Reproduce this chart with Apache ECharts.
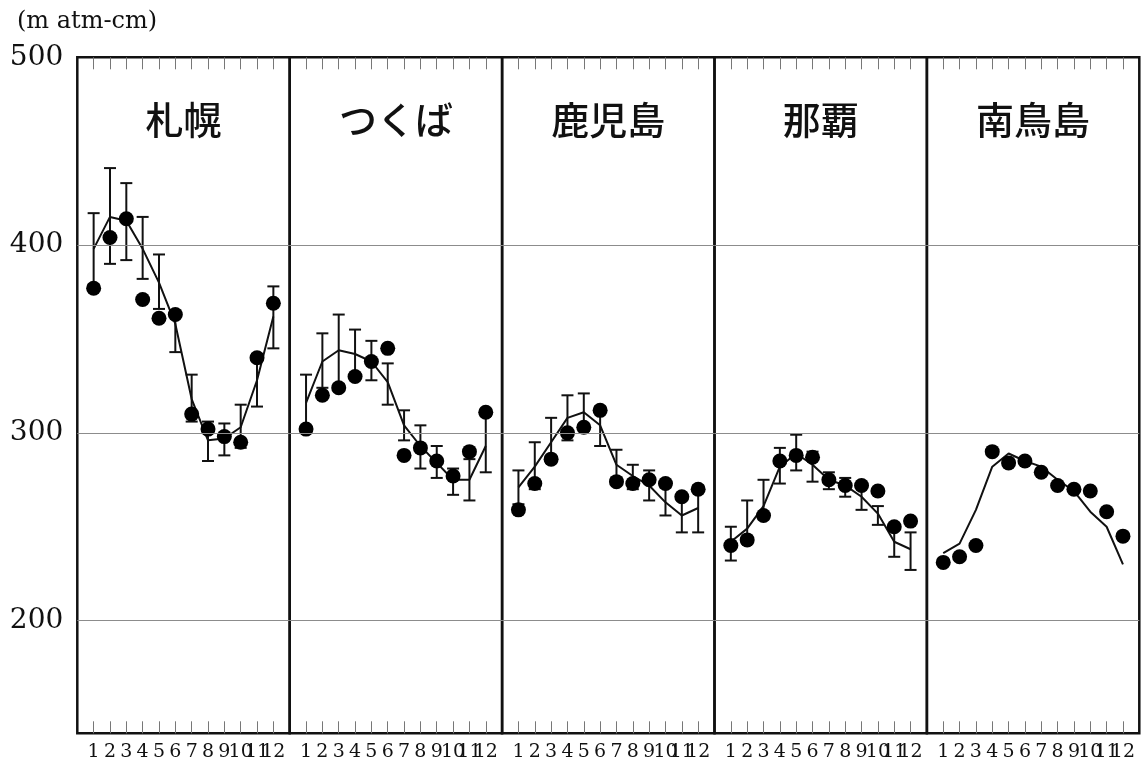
<!DOCTYPE html>
<html>
<head>
<meta charset="utf-8">
<script src="https://cdn.jsdelivr.net/npm/echarts@6/dist/echarts.min.js"></script>
<style>
html,body{margin:0;padding:0;background:#fff;}
#chart{width:1145px;height:765px;}
</style>
</head>
<body>
<div id="chart"></div>
<script>
const months = [1,2,3,4,5,6,7,8,9,10,11,12];
const stations = ['札幌','つくば','鹿児島','那覇','南鳥島'];
const yTickLabels = [200,300,400,500];
const unitLabel = '(m atm-cm)';

const sapporoDots = [377,404,414,371,361,363,310,302,298,295,340,369];
const sapporoMean = [398,415,413,398,380,358,318,296,297,303,328,362];
const sapporoHi   = [417,441,433,415,395,365,331,306,305,315,342,378];
const sapporoLo   = [379,390,392,382,366,343,306,285,288,292,314,345];

const tsukubaDots = [302,320,324,330,338,345,288,292,285,277,290,311];
const tsukubaMean = [316,338,344,342,338,327,304,293,284,275,275,293];
const tsukubaHi   = [331,353,363,355,349,337,312,304,293,281,286,309];
const tsukubaLo   = [301,324,326,330,328,315,296,281,276,267,264,279];

const kagoshimaDots = [259,273,286,300,303,312,274,273,275,273,266,270];
const kagoshimaMean = [271,282,295,308,311,304,283,277,272,263,256,260];
const kagoshimaHi   = [280,295,308,320,321,314,291,283,280,271,266,272];
const kagoshimaLo   = [262,270,284,296,301,293,276,270,264,256,247,247];

const nahaDots = [240,243,256,285,288,287,275,272,272,269,250,253];
const nahaMean = [242,249,261,282,289,283,275,272,266,257,242,238];
const nahaHi   = [250,264,275,292,299,290,279,276,273,261,250,247];
const nahaLo   = [232,241,254,273,280,274,270,266,259,251,234,227];

const minamitorishimaDots = [231,234,240,290,284,285,279,272,270,269,258,245];
const minamitorishimaMean = [236,241,259,282,289,285,282,275,269,258,250,230];

const dotsAll = [sapporoDots,tsukubaDots,kagoshimaDots,nahaDots,minamitorishimaDots];
const meanAll = [sapporoMean,tsukubaMean,kagoshimaMean,nahaMean,minamitorishimaMean];
const hiAll = [sapporoHi,tsukubaHi,kagoshimaHi,nahaHi,null];
const loAll = [sapporoLo,tsukubaLo,kagoshimaLo,nahaLo,null];

const chart = echarts.init(document.getElementById('chart'), null, {renderer:'canvas'});

const gLeft = 77.3, gW = 212.4, gTop = 57.3, gH = 676;
const ink = '#111';

const grids = [], xAxes = [], yAxes = [], series = [], graphics = [];

function errRender(params, api){
  const x = api.value(0), hi = api.value(1), lo = api.value(2);
  const t = api.coord([x,hi]), b = api.coord([x,lo]);
  const w = 6, st = {stroke: ink, lineWidth: 2};
  return {type:'group', children:[
    {type:'line', shape:{x1:t[0],y1:t[1],x2:b[0],y2:b[1]}, style:st},
    {type:'line', shape:{x1:t[0]-w,y1:t[1],x2:t[0]+w,y2:t[1]}, style:st},
    {type:'line', shape:{x1:b[0]-w,y1:b[1],x2:b[0]+w,y2:b[1]}, style:st}
  ]};
}

const oddMonths = months.filter(m=>m%2===1);
const evenMonths = months.filter(m=>m%2===0);
const labelStyle = {margin:9, color: ink, fontFamily:'DejaVu Serif', fontSize:19,
  showMinLabel:true, showMaxLabel:true, hideOverlap:false};

for (let i=0;i<5;i++){
  grids.push({left: gLeft + i*gW, top: gTop, width: gW, height: gH,
    show: true, borderColor: ink, borderWidth: 2.5, backgroundColor: 'transparent'});
  const tickCfg = {show:true, inside:true, length:12, customValues: months,
    lineStyle:{color:'#777', width:1}};
  // bottom axis: ticks + odd month labels (series bind here)
  xAxes.push({type:'value', gridIndex:i, min:0, max:13, position:'bottom',
    axisLine:{show:false}, axisTick: tickCfg, splitLine:{show:false},
    axisLabel: Object.assign({show:true, customValues: oddMonths}, labelStyle)});
  // bottom axis: even month labels
  xAxes.push({type:'value', gridIndex:i, min:0, max:13, position:'bottom',
    axisLine:{show:false}, axisTick:{show:false}, splitLine:{show:false},
    axisLabel: Object.assign({show:true, customValues: evenMonths}, labelStyle)});
  // top axis: ticks only
  xAxes.push({type:'value', gridIndex:i, min:0, max:13, position:'top',
    axisLine:{show:false}, axisTick: tickCfg, splitLine:{show:false},
    axisLabel:{show:false}});
  yAxes.push({type:'value', gridIndex:i, min:140, max:500,
    axisLine:{show:false}, axisTick:{show:false}, splitLine:{show:false},
    axisLabel: i===0 ? {show:true, customValues: yTickLabels, margin:14, color: ink,
      showMinLabel:true, showMaxLabel:true, hideOverlap:false,
      fontFamily:'DejaVu Serif', fontSize:28} : {show:false}});

  series.push({type:'line', xAxisIndex: i*3, yAxisIndex: i,
    data: months.map((m,k)=>[m, meanAll[i][k]]),
    symbol:'none', lineStyle:{color: ink, width:2}, z:3, silent:true,
    markLine:{silent:true, symbol:'none', label:{show:false},
      lineStyle:{color:'#8c8c8c', width:1.2, type:'solid'},
      data: yTickLabels.filter(v=>v<500).map(v=>({yAxis:v}))}});
  if (hiAll[i]){
    series.push({type:'custom', xAxisIndex: i*3, yAxisIndex: i,
      renderItem: errRender, encode:{x:0, y:[1,2]}, z:3, silent:true,
      data: months.map((m,k)=>[m, hiAll[i][k], loAll[i][k]])});
  }
  series.push({type:'scatter', xAxisIndex: i*3, yAxisIndex: i,
    data: months.map((m,k)=>[m, dotsAll[i][k]]),
    symbol:'circle', symbolSize:15, itemStyle:{color:'#000', opacity:1}, z:4, silent:true});

  graphics.push({type:'text', x: gLeft + i*gW + gW/2, y: 120, z:10,
    style:{text: stations[i], fill: ink, font: '500 38px "Noto Sans CJK JP"',
      textAlign:'center', textVerticalAlign:'middle'}});
}
graphics.push({type:'text', x:17, y:22, style:{text: unitLabel, fill: ink,
  font:'24px "DejaVu Serif"', textAlign:'left', textVerticalAlign:'middle'}});

chart.setOption({
  animation:false,
  backgroundColor:'#fff',
  grid: grids, xAxis: xAxes, yAxis: yAxes, series: series, graphic: graphics
});
</script>
</body>
</html>
